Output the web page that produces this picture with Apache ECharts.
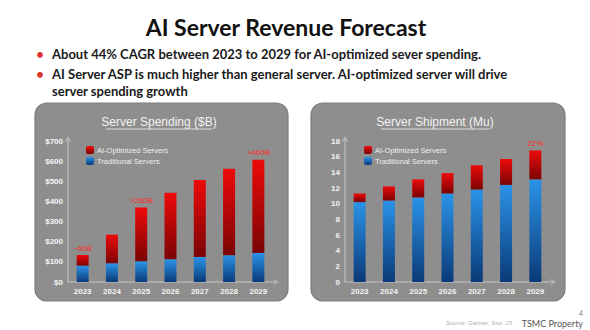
<!DOCTYPE html>
<html><head><meta charset="utf-8">
<script src="https://cdn.jsdelivr.net/npm/echarts@6/dist/echarts.min.js"></script>
<style>html,body{margin:0;padding:0;background:#fff}#c{width:590px;height:330px}</style>
</head><body><div id="c"></div>
<script>
var years = ['2023','2024','2025','2026','2027','2028','2029'];
var spendTraditional = [81, 93, 103, 113, 124, 133, 144];
var spendAI = [53, 142, 267, 330, 382, 429, 463];
var spendNotes = ['~60B', '', '>260B', '', '', '', '>460B'];
var shipTraditional = [10.2, 10.4, 10.8, 11.3, 11.8, 12.4, 13.1];
var shipAI = [1.1, 1.8, 2.3, 2.6, 3.1, 3.3, 3.7];
var shipNotes = ['', '', '', '', '', '', '22%'];
var mainTitle = 'AI Server Revenue Forecast';
var bullets = ['About 44% CAGR between 2023 to 2029 for AI-optimized sever spending.',
  'AI Server ASP is much higher than general server. AI-optimized server will drive',
  'server spending growth'];
var panelTitles = ['Server Spending ($B)', 'Server Shipment (Mu)'];
var legendNames = ['AI-Optimized Servers', 'Traditional Servers'];

var chart = echarts.init(document.getElementById('c'), null, {renderer: 'svg', width: 590, height: 330});
var F = 'Liberation Sans, Arial, sans-serif';
var redGrad = new echarts.graphic.LinearGradient(0,0,0,1,[{offset:0,color:'#ee0a0a'},{offset:1,color:'#7a0404'}]);
var blueGrad = new echarts.graphic.LinearGradient(0,0,0,1,[{offset:0,color:'#2b93e8'},{offset:1,color:'#0a3a78'}]);

function withNotes(vals, notes) {
  return vals.map(function(v, i){
    return notes[i] ? {value: v, label: {show: true, formatter: notes[i]}} : v;
  });
}
function axisX(gi) {
  return {type:'category', gridIndex: gi, data: years,
    axisLine:{show:true, symbol:['none','arrow'], symbolSize:[5,6], symbolOffset:[0,6], lineStyle:{color:'#b4b4b4', width:1.5}},
    axisTick:{show:false},
    axisLabel:{color:'#f4f4f4', fontSize:8, fontWeight:'bold', fontFamily:F, margin:5}};
}
function axisY(gi, max, interval, fmt) {
  return {type:'value', gridIndex: gi, min:0, max:max, interval:interval,
    axisLine:{show:true, symbol:['none','arrow'], symbolSize:[5,6], symbolOffset:[0,5], lineStyle:{color:'#b4b4b4', width:1.5}},
    axisTick:{show:false}, splitLine:{show:false},
    axisLabel:{color:'#f4f4f4', fontSize:8, fontWeight:'bold', fontFamily:F, margin:5, formatter: fmt}};
}
function legend(left) {
  return {orient:'vertical', left:left, top:146, padding:0, itemWidth:8, itemHeight:8, itemGap:3,
    data: legendNames, selectedMode:false,
    textStyle:{color:'#eeeeee', fontSize:7.5, fontFamily:F, padding:[0,0,0,-2]}};
}
var noteLabel = {show:false, position:'top', color:'#ff2b2b', fontSize:8, fontFamily:F, distance:3};

var option = {
  animation: false,
  backgroundColor: '#ffffff',
  graphic: [
    {type:'rect', shape:{x:35, y:103, width:253, height:198, r:12}, style:{fill:'#8e8e8e', stroke:'#7c7c7c', lineWidth:1.2}, z:-10},
    {type:'rect', shape:{x:311, y:103, width:254, height:198, r:12}, style:{fill:'#8e8e8e', stroke:'#7c7c7c', lineWidth:1.2}, z:-10},
    {type:'text', x:286, y:27, style:{text: mainTitle, fill:'#111', font:'bold 23px Lato, sans-serif', textAlign:'center', textVerticalAlign:'middle'}},
    {type:'text', x:40, y:53.5, style:{text:'•', fill:'#e03030', font:'bold 13px Lato, sans-serif', textAlign:'center', textVerticalAlign:'middle'}},
    {type:'text', x:40, y:73.5, style:{text:'•', fill:'#e03030', font:'bold 13px Lato, sans-serif', textAlign:'center', textVerticalAlign:'middle'}},
    {type:'text', x:52, y:53.5, style:{text: bullets[0], fill:'#1a1a1a', font:'bold 13px Lato, sans-serif', textVerticalAlign:'middle'}},
    {type:'text', x:52, y:73.5, style:{text: bullets[1], fill:'#1a1a1a', font:'bold 13px Lato, sans-serif', textVerticalAlign:'middle'}},
    {type:'text', x:52, y:90.5, style:{text: bullets[2], fill:'#1a1a1a', font:'bold 13px Lato, sans-serif', textVerticalAlign:'middle'}},
    {type:'text', x:159, y:122, style:{text: panelTitles[0], fill:'#f2f2f2', font:'12px Liberation Sans, Arial, sans-serif', textAlign:'center', textVerticalAlign:'middle'}},
    {type:'line', shape:{x1:106, y1:129, x2:212, y2:129}, style:{stroke:'#f2f2f2', lineWidth:0.8}},
    {type:'text', x:435, y:122, style:{text: panelTitles[1], fill:'#f2f2f2', font:'12px Liberation Sans, Arial, sans-serif', textAlign:'center', textVerticalAlign:'middle'}},
    {type:'line', shape:{x1:381, y1:129, x2:489, y2:129}, style:{stroke:'#f2f2f2', lineWidth:0.8}},
    {type:'text', x:512, y:323, style:{text:'Source: Gartner, Sep. 25', fill:'#b0b0b0', font:'italic 6px Liberation Sans, Arial, sans-serif', textAlign:'right', textVerticalAlign:'middle'}},
    {type:'text', x:583, y:323, style:{text:'TSMC Property', fill:'#555', font:'9px Lato, sans-serif', textAlign:'right', textVerticalAlign:'middle'}},
    {type:'text', x:583, y:313, style:{text:'4', fill:'#777', font:'7px Lato, sans-serif', textAlign:'right', textVerticalAlign:'middle'}}
  ],
  grid: [
    {left:68, right:317, top:141, bottom:48},
    {left:345, right:40, top:141, bottom:48}
  ],
  legend: [legend(86), legend(364)],
  xAxis: [axisX(0), axisX(1)],
  yAxis: [axisY(0, 700, 100, function(v){return '$' + v;}), axisY(1, 18, 2, function(v){return v;})],
  series: [
    {name: legendNames[1], type:'bar', stack:'a', xAxisIndex:0, yAxisIndex:0, barWidth:12, data: spendTraditional, itemStyle:{color: blueGrad}},
    {name: legendNames[0], type:'bar', stack:'a', xAxisIndex:0, yAxisIndex:0, barWidth:12, data: withNotes(spendAI, spendNotes), itemStyle:{color: redGrad}, label: noteLabel},
    {name: legendNames[1], type:'bar', stack:'b', xAxisIndex:1, yAxisIndex:1, barWidth:12, data: shipTraditional, itemStyle:{color: blueGrad}},
    {name: legendNames[0], type:'bar', stack:'b', xAxisIndex:1, yAxisIndex:1, barWidth:12, data: withNotes(shipAI, shipNotes), itemStyle:{color: redGrad}, label: noteLabel}
  ]
};
chart.setOption(option);
</script></body></html>
